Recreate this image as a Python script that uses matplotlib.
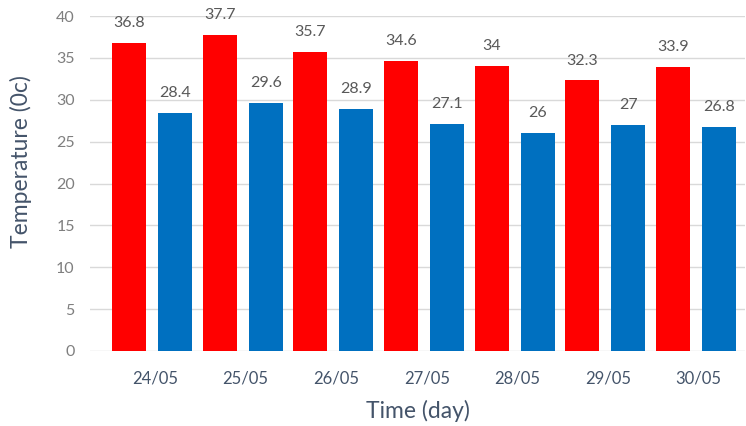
import matplotlib.pyplot as plt
import numpy as np

days = ["24/05", "25/05", "26/05", "27/05", "28/05", "29/05", "30/05"]
max_temp = [36.8, 37.7, 35.7, 34.6, 34, 32.3, 33.9]
min_temp = [28.4, 29.6, 28.9, 27.1, 26, 27, 26.8]
yticks = [0, 5, 10, 15, 20, 25, 30, 35, 40]

plt.rcParams['font.family'] = ['Lato', 'DejaVu Sans']

fig = plt.figure(figsize=(7.46, 4.26), dpi=100)
ax = fig.add_axes([90/746, 1-351/426, (745-90)/746, (351-16)/426])

x = np.arange(len(days))
w = 0.375
off = 0.254
b1 = ax.bar(x - off, max_temp, width=w, color='#FF0000', zorder=3)
b2 = ax.bar(x + off, min_temp, width=w, color='#0070C0', zorder=3)

for bars, vals in ((b1, max_temp), (b2, min_temp)):
    for b, v in zip(bars, vals):
        ax.annotate(f"{v:g}", (b.get_x() + b.get_width()/2, v),
                    xytext=(0, 11.5), textcoords='offset points',
                    ha='center', va='baseline', fontsize=11.5, color='#595959')

ax.set_ylim(0, 40)
ax.set_xlim(-0.684, 6.54)
ax.set_yticks(yticks)
ax.set_xticks(x + 0.03)
ax.set_xticklabels(days)
ax.yaxis.grid(True, color='#D9D9D9', linewidth=1, zorder=0)
ax.set_axisbelow(True)
for s in ax.spines.values():
    s.set_visible(False)
ax.tick_params(axis='both', length=0)
ax.tick_params(axis='y', pad=11, labelsize=11.5, labelcolor='#7F7F7F')
ax.tick_params(axis='x', pad=14, labelsize=12, labelcolor='#44546A')

ax.set_ylabel('Temperature (0c)', fontsize=16.5, color='#44546A')
ax.yaxis.set_label_coords(-0.089, 0.564)
ax.set_xlabel('Time (day)', fontsize=16.5, color='#44546A', labelpad=10)

fig.savefig('out.png', dpi=100)
